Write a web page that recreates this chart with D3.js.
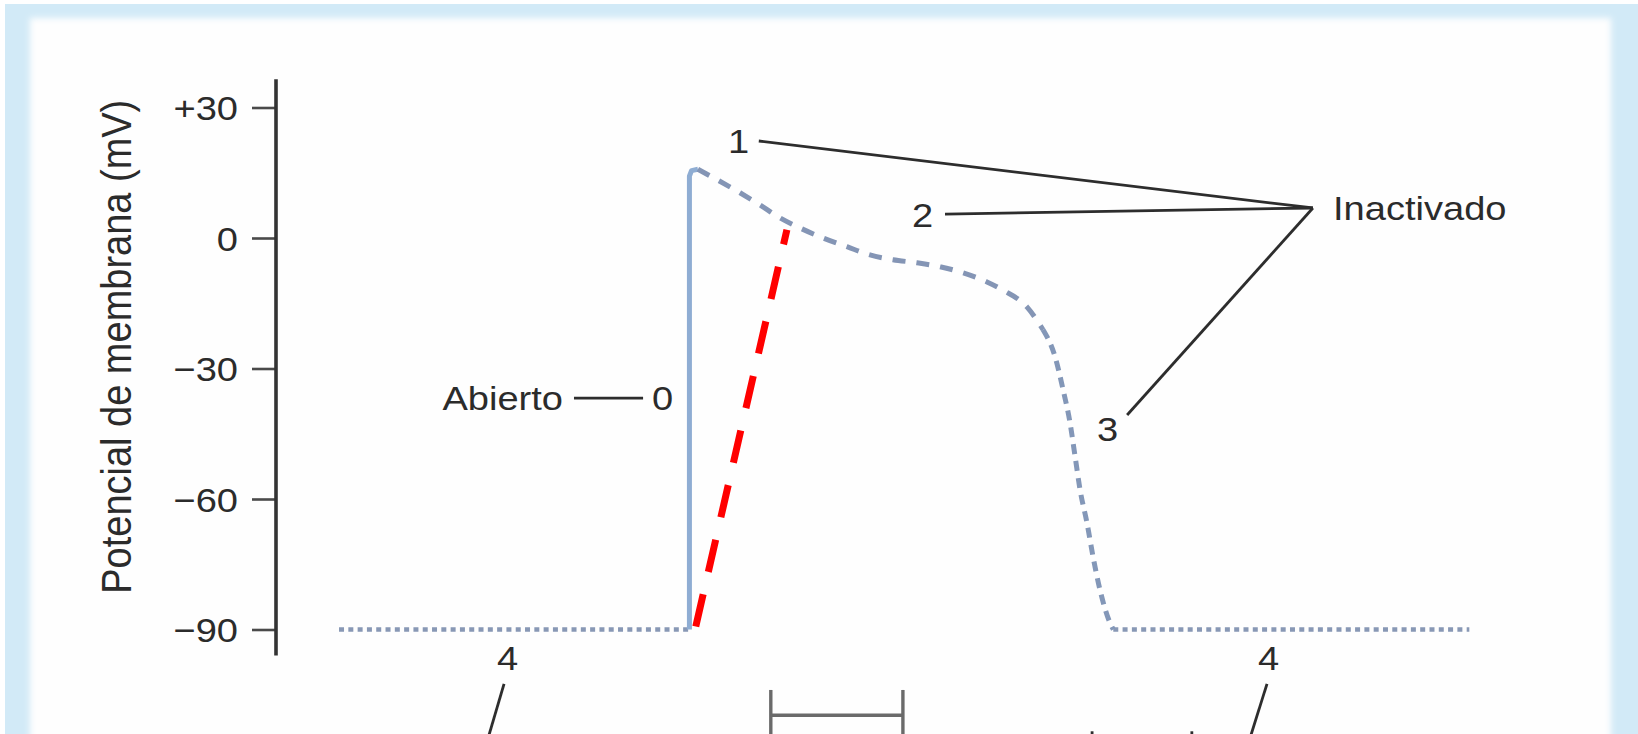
<!DOCTYPE html>
<html>
<head>
<meta charset="utf-8">
<script src="https://cdn.jsdelivr.net/npm/d3@7"></script>
<style>
  body { margin: 0; background: #fff; }
  svg { display: block; }
  text { font-family: "Liberation Sans", Arial, Helvetica, sans-serif; fill: #2b2b2b; }
</style>
</head>
<body>
<svg id="chart"></svg>
<script>
var svgWidth = 1638;
var svgHeight = 734;

// membrane potential axis (mV)
var yTicks = [30, 0, -30, -60, -90];
var yTickLabels = ['+30', '0', '\u221230', '\u221260', '\u221290'];
var yAxisExtent = [36.5, -96];

// action potential trace, time in ms vs mV
var phase4Left = [[-248, -90], [0, -90]];
var phase0 = [[0, -90], [0, 14.2], [1.5, 15.5], [6, 15.8]];
var phase12 = [
  [6, 15.8], [19.5, 13.4], [35.8, 10.4], [50, 7.6], [64.2, 4.6], [78.3, 2.3],
  [94.6, 0], [111.5, -2], [127.8, -3.9], [144.1, -5], [161.1, -5.7], [177.4, -6.6],
  [193.6, -8], [210.6, -10.1], [222, -12], [239, -15.9], [250.3, -21.1]
];
var phase3 = [
  [250.3, -21.1], [258.8, -27.3], [264.5, -34.9], [269.4, -42.5], [273, -50.3],
  [276.5, -57.9], [281.4, -65.5], [285.7, -73.3], [290.6, -80.9], [297.7, -88.5], [300, -90]
];
var phase4Right = [[300, -90], [552, -90]];
var redLine = [[4.5, -89.3], [69, 1.9]];

// annotations, in the same time / mV units
var labels = [
  { text: '1', t: 27.3, v: 19.5, anchor: 'start' },
  { text: '2', t: 157.5, v: 2.5, anchor: 'start' },
  { text: '3', t: 288.5, v: -46.7, anchor: 'start' },
  { text: 'Inactivado', t: 455.5, v: 4.1, anchor: 'start' },
  { text: 'Abierto', t: -89.5, v: -39.5, anchor: 'end' },
  { text: '0', t: -26.5, v: -39.5, anchor: 'start' },
  { text: '4', t: -136.2, v: -99.3, anchor: 'start' },
  { text: '4', t: 402.4, v: -99.3, anchor: 'start' }
];
var leaders = [
  [[49.1, 22.3], [441.3, 6.9]],
  [[180.9, 5.5], [441.3, 6.9]],
  [[309.8, -40.7], [441.3, 6.9]],
  [[-81.7, -36.8], [-32.8, -36.8]],
  [[-131.2, -102.5], [-141.8, -114.2]],
  [[408.8, -102.5], [397.5, -114.2]],
  [[285.0, -113.4], [285.0, -115]],
  [[355.6, -113.4], [355.6, -115]]
];
var bracket = [[[57.6, -103.9], [57.6, -116]], [[151.1, -103.9], [151.1, -116]], [[57.6, -109.7], [151.1, -109.7]]];

var stretch = 1.12;

var x = d3.scaleLinear().domain([-250, 550]).range([336.2, 1466.5]);
var y = d3.scaleLinear().domain([-90, 30]).range([629.5, 107.5]);

var svg = d3.select('#chart').attr('width', svgWidth).attr('height', svgHeight);

// framed light-blue background with soft white panel
var defs = svg.append('defs');
defs.append('filter').attr('id', 'soft').attr('x', '-5%').attr('y', '-5%').attr('width', '110%').attr('height', '110%')
  .append('feGaussianBlur').attr('stdDeviation', 3);
svg.append('rect').attr('x', 0).attr('y', 0).attr('width', svgWidth).attr('height', svgHeight).attr('fill', '#ffffff');
svg.append('rect').attr('x', 5).attr('y', 4).attr('width', svgWidth).attr('height', svgHeight).attr('fill', '#d2eaf7');
svg.append('rect').attr('x', 30).attr('y', 18).attr('width', 1581).attr('height', svgHeight + 20)
  .attr('fill', '#fefefe').attr('filter', 'url(#soft)');

// y axis
var axisG = svg.append('g').attr('transform', 'translate(' + 276 + ',0)');
axisG.call(d3.axisLeft(y).tickValues(yTicks).tickFormat(function(d, i) { return yTickLabels[i]; })
  .tickSize(24).tickSizeOuter(0));
axisG.select('.domain').remove();
axisG.selectAll('.tick line').attr('stroke', '#4a4a4a').attr('stroke-width', 2.6);
axisG.selectAll('.tick text')
  .attr('x', null).attr('dy', null)
  .attr('transform', 'translate(-38,12) scale(' + stretch + ',1)')
  .style('font-size', '34px').attr('fill', '#2b2b2b');
axisG.append('line')
  .attr('x1', 0).attr('x2', 0)
  .attr('y1', y(yAxisExtent[0])).attr('y2', y(yAxisExtent[1]))
  .attr('stroke', '#333').attr('stroke-width', 3.6);

svg.append('text')
  .attr('transform', 'translate(131,' + y(-25) + ') scale(' + stretch + ',1) rotate(-90)')
  .attr('text-anchor', 'middle')
  .style('font-size', '38px')
  .text('Potencial de membrana (mV)');

var line = d3.line().x(function(d) { return x(d[0]); }).y(function(d) { return y(d[1]); });
var smooth = d3.line().curve(d3.curveMonotoneX).x(function(d) { return x(d[0]); }).y(function(d) { return y(d[1]); });

var trace = svg.append('g').attr('fill', 'none');
trace.selectAll('.rest')
  .data([phase4Left, phase4Right])
  .enter().append('path')
  .attr('class', 'rest')
  .attr('d', line)
  .attr('stroke', '#8898b5').attr('stroke-width', 4.5).attr('stroke-dasharray', '5,4.3');
trace.append('path')
  .attr('d', line(phase0))
  .attr('stroke', '#8fadd3').attr('stroke-width', 5).attr('stroke-linejoin', 'round');
trace.append('path')
  .attr('d', smooth(phase12))
  .attr('stroke', '#8495b5').attr('stroke-width', 5).attr('stroke-dasharray', '13,11');
trace.append('path')
  .attr('d', smooth(phase3))
  .attr('stroke', '#8397b8').attr('stroke-width', 5).attr('stroke-dasharray', '10,7');

// annotation lines
var notes = svg.append('g').attr('fill', 'none');
notes.selectAll('.leader')
  .data(leaders)
  .enter().append('path')
  .attr('class', 'leader')
  .attr('d', line)
  .attr('stroke', '#2d2d2d').attr('stroke-width', 2.8);
notes.selectAll('.bracket')
  .data(bracket)
  .enter().append('path')
  .attr('class', 'bracket')
  .attr('d', line)
  .attr('stroke', '#6a6a6a').attr('stroke-width', 3.4);

svg.selectAll('.label')
  .data(labels)
  .enter().append('text')
  .attr('class', 'label')
  .attr('transform', function(d) { return 'translate(' + x(d.t) + ',' + y(d.v) + ') scale(' + stretch + ',1)'; })
  .attr('text-anchor', function(d) { return d.anchor; })
  .style('font-size', '34px')
  .text(function(d) { return d.text; });

// red dashed overlay
svg.append('path')
  .attr('d', line(redLine))
  .attr('fill', 'none')
  .attr('stroke', '#ff0000').attr('stroke-width', 7).attr('stroke-dasharray', '33,23');
</script>
</body>
</html>
